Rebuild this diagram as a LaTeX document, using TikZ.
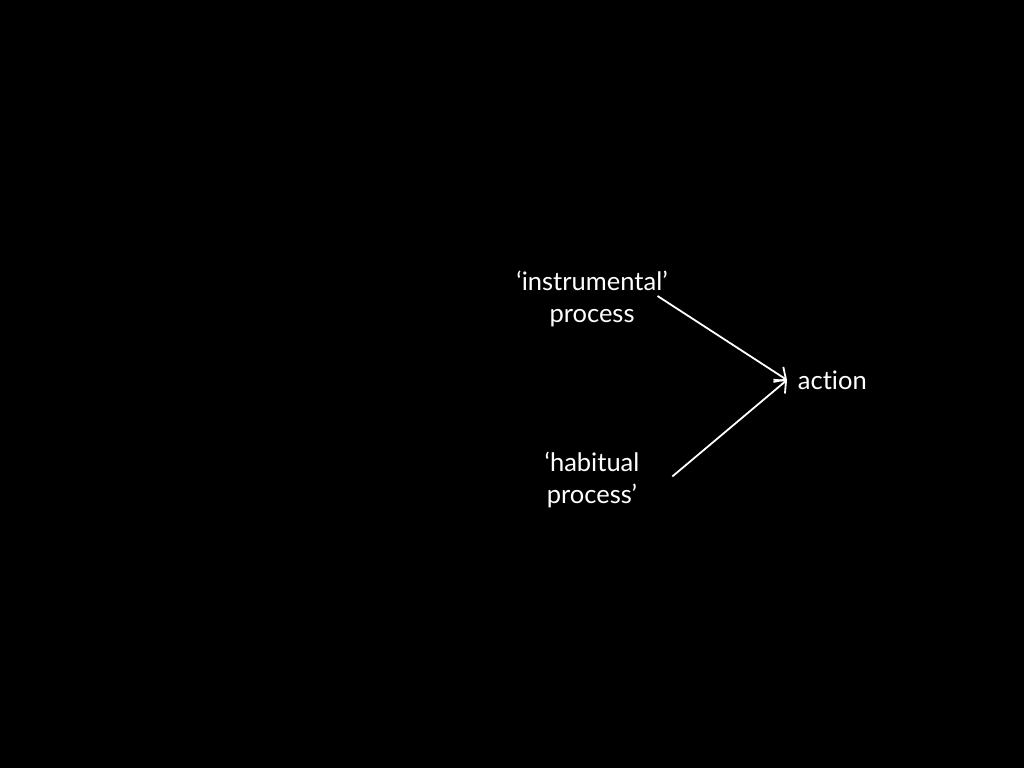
\documentclass[tikz,border=0pt]{standalone}
\usepackage{fontspec}
\setmainfont{Lato}[Ligatures={NoCommon}]
\usetikzlibrary{arrows.meta}

\begin{document}
\begin{tikzpicture}[x=1pt, y=1pt, line width=1.8pt, white,
    lbl/.style={align=center, inner sep=0pt, font=\fontsize{25.5}{32}\selectfont},
    >={Straight Barb[length=9pt, width=18pt]}]
  % background
  \fill[black] (0,0) rectangle (1024,768);
  \useasboundingbox (0,0) rectangle (1024,768);

  \node[lbl] (ins) at (592,469) {‘instrumental’\\process};
  \node[lbl] (hab) at (592,288.5) {‘habitual\\process’};
  \node[lbl, anchor=west] (act) at (797,388) {action};

  \draw[->] ([xshift=-11pt, yshift=3pt]ins.east) -- ([xshift=-10pt, yshift=0pt]act.west);
  \draw[->] ([xshift=32pt, yshift=3pt]hab.east) -- ([xshift=-10pt, yshift=0pt]act.west);
\end{tikzpicture}
\end{document}
